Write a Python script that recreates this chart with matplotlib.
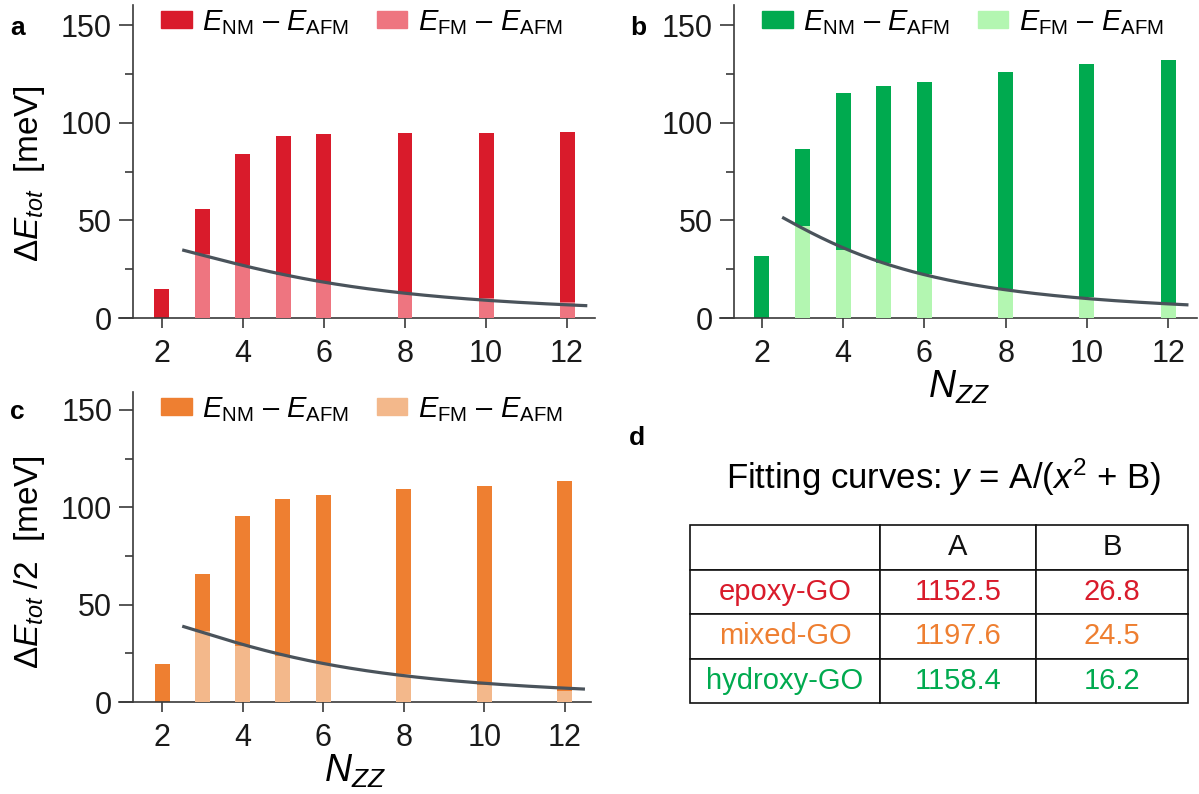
import numpy as np
import matplotlib.pyplot as plt
from matplotlib.patches import Patch

plt.rcParams['font.family'] = ['Liberation Sans', 'DejaVu Sans']
plt.rcParams['mathtext.fontset'] = 'custom'
plt.rcParams['mathtext.rm'] = 'Liberation Sans'
plt.rcParams['mathtext.it'] = 'Liberation Sans:italic'
plt.rcParams['mathtext.bf'] = 'Liberation Sans:bold'

# zigzag width N_ZZ
n_zz = [2, 3, 4, 5, 6, 8, 10, 12]

# energy differences (meV)
epoxy_nm = [15, 56, 84, 93, 94, 95, 95, 95.5]
epoxy_fm = [0, 33, 27, 22, 18.5, 13, 10, 8.3]
hydroxy_nm = [32, 86.5, 115, 119, 121, 126, 130, 132]
hydroxy_fm = [0, 47, 35, 28, 22.5, 15, 10.5, 7]
mixed_nm = [19.5, 65.5, 95.5, 104, 106.5, 109.5, 111, 113.5]
mixed_fm = [0, 36.5, 29, 23.5, 20, 14.5, 8.6, 5.7]

# fit y = A/(x^2 + B)
fit_names = ['epoxy-GO', 'mixed-GO', 'hydroxy-GO']
fit_A = [1152.5, 1197.6, 1158.4]
fit_B = [26.8, 24.5, 16.2]

red = ('#d91b2b', '#ee7580')
green = ('#00aa4f', '#b3f6b1')
orange = ('#ee7f31', '#f3b88b')
curve_col = '#4a535b'
axis_col = '#3a3a3a'

W, H = 1199, 794
fig = plt.figure(figsize=(W / 100, H / 100), dpi=100)


def px_axes(l, r, t, b):
    return fig.add_axes([l / W, 1 - b / H, (r - l) / W, (b - t) / H])


def panel(ax, nm, fm, cols, A, B, xlim, ylim, spine_x):
    x = np.array(n_zz)
    ax.bar(x, nm, width=0.37, color=cols[0], zorder=2)
    ax.bar(x, fm, width=0.37, color=cols[1], zorder=3)
    xc = np.linspace(2.5, 12.5, 200)
    ax.plot(xc, A / (xc ** 2 + B), color=curve_col, lw=2.3, zorder=4,
            solid_capstyle='butt')
    ax.set_xlim(*xlim)
    ax.set_ylim(*ylim)
    for s in ['top', 'right']:
        ax.spines[s].set_visible(False)
    ax.spines['left'].set_position(('data', spine_x))
    for s in ['left', 'bottom']:
        ax.spines[s].set_color(axis_col)
        ax.spines[s].set_linewidth(1.2)
    ax.set_xticks([2, 4, 6, 8, 10, 12])
    ax.set_yticks([0, 50, 100, 150])
    ax.set_yticks([25, 75, 125], minor=True)
    ax.tick_params(axis='x', length=7, width=1.2, color=axis_col, pad=8,
                   labelsize=22, labelcolor='#1a1a1a')
    ax.tick_params(axis='y', which='major', length=10, width=1.2, color=axis_col,
                   pad=5, labelsize=22, labelcolor='#1a1a1a')
    ax.tick_params(axis='y', which='minor', length=6, width=1.2, color=axis_col)
    handles = [Patch(color=cols[0]), Patch(color=cols[1])]
    labels = [r'$E_{\mathrm{NM}}$ – $E_{\mathrm{AFM}}$', r'$E_{\mathrm{FM}}$ – $E_{\mathrm{AFM}}$']
    ax.legend(handles, labels, ncol=2, loc='upper left', frameon=False,
              bbox_to_anchor=(spine_x + 0.7, ylim[1] * 0.99),
              bbox_transform=ax.transData, fontsize=21,
              handlelength=1.05, handleheight=0.5, handletextpad=0.35,
              columnspacing=0.95, borderpad=0, borderaxespad=0)


ax_a = px_axes(119, 595, 5, 318)
panel(ax_a, epoxy_nm, epoxy_fm, red, fit_A[0], fit_B[0], (0.94, 12.69), (0, 160.3), 1.28)

ax_b = px_axes(720, 1197, 5, 318)
panel(ax_b, hydroxy_nm, hydroxy_fm, green, fit_A[2], fit_B[2], (0.97, 12.71), (0, 160.3), 1.31)
ax_b.set_xlabel(r'$N_{ZZ}$', fontsize=27, labelpad=0)

ax_c = px_axes(119, 591, 392, 702)
panel(ax_c, mixed_nm, mixed_fm, orange, fit_A[1], fit_B[1], (0.93, 12.65), (0, 159.2), 1.28)
ax_c.set_xlabel(r'$N_{ZZ}$', fontsize=27, labelpad=0)

# y labels and panel letters
fig.text(30 / W, 1 - 174 / H, r'$\Delta E_{tot}$  [meV]', rotation=90,
         ha='center', va='center', fontsize=24)
fig.text(30 / W, 1 - 562 / H, r'$\Delta E_{tot}$ /2  [meV]', rotation=90,
         ha='center', va='center', fontsize=24)
for lab, xp, yp in [('a', 18, 28), ('b', 638, 28), ('c', 17, 412), ('d', 637, 438)]:
    fig.text(xp / W, 1 - yp / H, lab, ha='center', va='center',
             fontsize=19, fontweight='bold')

# table of fit parameters
fig.text(944 / W, 1 - 477 / H, r'Fitting curves: $y$ = A/($x^{2}$ + B)',
         ha='center', va='center', fontsize=25)

ax_d = fig.add_axes([0, 0, 1, 1])
ax_d.axis('off')
row_cols = [red[0], orange[0], green[0]]
cell_text = [['', 'A', 'B']] + [[n, f'{a:.1f}', f'{b:.1f}'] for n, a, b in zip(fit_names, fit_A, fit_B)]
tl, tr, tt, tb = 690, 1188, 525, 703
tab = ax_d.table(cellText=cell_text, cellLoc='center',
                 colWidths=[190 / W, 156 / W, 152 / W],
                 bbox=[tl / W, 1 - tb / H, (tr - tl) / W, (tb - tt) / H])
tab.auto_set_font_size(False)
for (r, c), cell in tab.get_celld().items():
    cell.set_linewidth(1.2)
    cell.set_edgecolor('#111111')
    cell.get_text().set_fontsize(21)
    cell.get_text().set_color('#111111' if r == 0 else row_cols[r - 1])

fig.savefig('out.png', dpi=100)
